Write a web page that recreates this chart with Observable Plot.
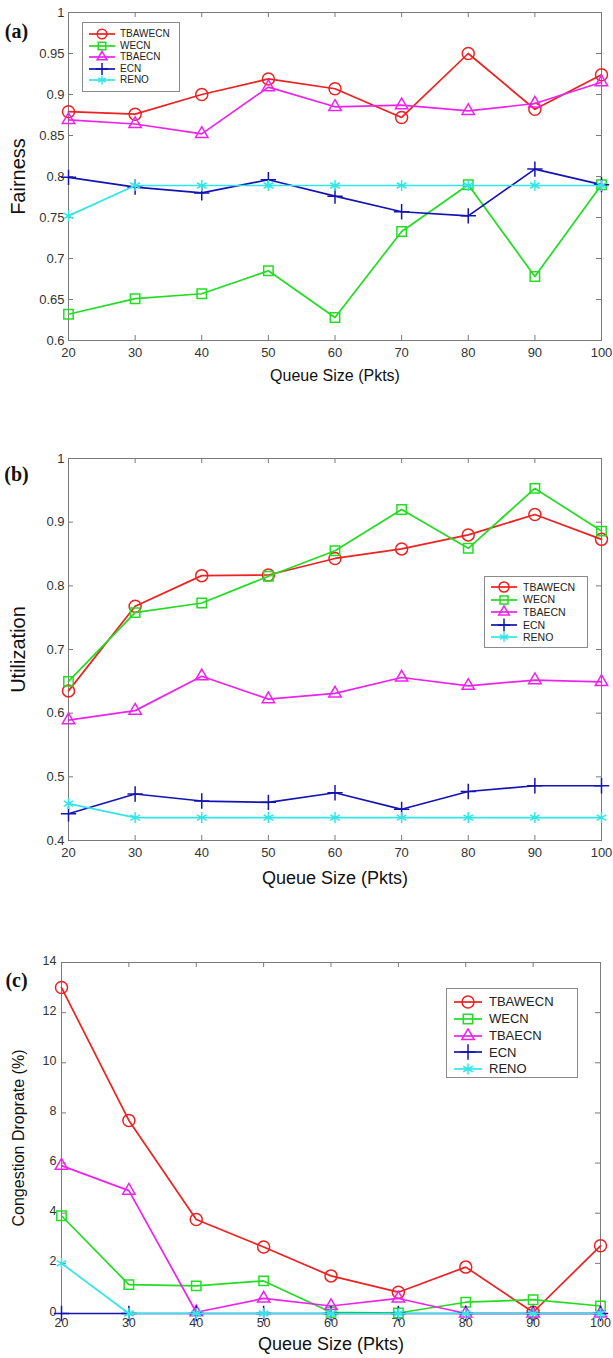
<!DOCTYPE html>
<html><head><meta charset="utf-8">
<script src="https://cdn.jsdelivr.net/npm/d3@7"></script>
<script src="https://cdn.jsdelivr.net/npm/@observablehq/plot@0.6"></script>
<style>
body{margin:0;background:#fff;}
#wrap{position:relative;width:613px;height:1358px;overflow:hidden;}
.panel{position:absolute;left:0;}
.legend{position:absolute;background:#fff;border:1px solid #8a8a8a;font-family:"Liberation Sans",Arial,sans-serif;color:#222;box-sizing:border-box;}
.legend .row{position:absolute;left:0;white-space:nowrap;}
</style></head><body><div id="wrap"></div>
<script>
// ---- data ----
const queueSizes = [20, 30, 40, 50, 60, 70, 80, 90, 100];
const seriesNames = ["TBAWECN", "WECN", "TBAECN", "ECN", "RENO"];
const seriesColors = ["#ee2020", "#22dd22", "#ee22ee", "#1414b4", "#33e6e6"];
const seriesSymbols = ["circle", "square", "triangle", "plus", "asterisk"];
const symbolRadius = [6, 5.3, 4.6, 5, 5.2];

// (a) Fairness
const fairTBAWECN = [0.879, 0.876, 0.900, 0.919, 0.907, 0.872, 0.950, 0.882, 0.924];
const fairWECN    = [0.632, 0.651, 0.657, 0.685, 0.628, 0.733, 0.790, 0.678, 0.790];
const fairTBAECN  = [0.869, 0.864, 0.852, 0.909, 0.885, 0.887, 0.880, 0.889, 0.915];
const fairECN     = [0.799, 0.787, 0.780, 0.796, 0.776, 0.757, 0.752, 0.809, 0.790];
const fairRENO    = [0.752, 0.789, 0.789, 0.789, 0.789, 0.789, 0.789, 0.789, 0.789];
const fairTicks   = [0.6, 0.65, 0.7, 0.75, 0.8, 0.85, 0.9, 0.95, 1];

// (b) Utilization
const utilTBAWECN = [0.635, 0.768, 0.816, 0.817, 0.843, 0.858, 0.880, 0.912, 0.873];
const utilWECN    = [0.650, 0.758, 0.773, 0.815, 0.855, 0.920, 0.859, 0.953, 0.886];
const utilTBAECN  = [0.589, 0.604, 0.658, 0.622, 0.631, 0.656, 0.643, 0.652, 0.649];
const utilECN     = [0.442, 0.473, 0.462, 0.460, 0.475, 0.449, 0.477, 0.486, 0.486];
const utilRENO    = [0.458, 0.436, 0.436, 0.436, 0.436, 0.436, 0.436, 0.436, 0.436];
const utilTicks   = [0.4, 0.5, 0.6, 0.7, 0.8, 0.9, 1];

// (c) Congestion droprate (%)
const dropTBAWECN = [13.0, 7.7, 3.75, 2.65, 1.5, 0.85, 1.85, 0.05, 2.7];
const dropWECN    = [3.9, 1.15, 1.1, 1.3, 0.05, 0.02, 0.45, 0.55, 0.3];
const dropTBAECN  = [5.9, 4.9, 0.05, 0.6, 0.3, 0.6, 0.0, 0.0, 0.0];
const dropECN     = [0, 0, 0, 0, 0, 0, 0, 0, 0];
const dropRENO    = [2.0, 0, 0, 0, 0, 0, 0, 0, 0];
const dropTicks   = [0, 2, 4, 6, 8, 10, 12, 14];

const sansFont = '"Liberation Sans", Arial, sans-serif';
const serifFont = '"Liberation Serif", "Times New Roman", serif';

const panels = [
  {tag: "(a)", top: 0, h: 430, mt: 12, mb: 90, ml: 68, mr: 12,
   yDomain: [0.6, 1], yTicks: fairTicks, yLabel: "Fairness", yLabelSize: 20, yLabelDx: -50,
   xLabelSize: 16, xLabelDy: 40, tickFont: 13, tickPad: 7, yTickDy: 0, yTickPad: 4, tagDy: 11,
   series: [fairTBAWECN, fairWECN, fairTBAECN, fairECN, fairRENO],
   legend: {left: 82, top: 22, width: 98, height: 70, first: 11, step: 11.6, font: 10, lx0: 6, lx1: 32, tx: 37, scale: 0.8}},
  {tag: "(b)", top: 440, h: 470, mt: 18, mb: 70, ml: 68, mr: 12,
   yDomain: [0.4, 1], yTicks: utilTicks, yLabel: "Utilization", yLabelSize: 20, yLabelDx: -50,
   xLabelSize: 18, xLabelDy: 43, tickFont: 13, tickPad: 7, yTickDy: 0, yTickPad: 4, tagDy: 8,
   series: [utilTBAWECN, utilWECN, utilTBAECN, utilECN, utilRENO],
   legend: {left: 484, top: 576, width: 104, height: 72, first: 10, step: 12.6, font: 10.5, lx0: 6, lx1: 32, tx: 38, scale: 0.85}},
  {tag: "(c)", top: 920, h: 438, mt: 42, mb: 45, ml: 61, mr: 13,
   yDomain: [0, 14], yTicks: dropTicks, yLabel: "Congestion Droprate (%)", yLabelSize: 16, yLabelDx: -43,
   xLabelSize: 18, xLabelDy: 36, tickFont: 12.5, tickPad: 5, yTickDy: -2, yTickPad: 5, tagDy: 10,
   series: [dropTBAWECN, dropWECN, dropTBAECN, dropECN, dropRENO],
   legend: {left: 446, top: 988, width: 132, height: 90, first: 13, step: 16.8, font: 13, lx0: 7, lx1: 35, tx: 42, scale: 1}}
];

const wrap = document.getElementById("wrap");
const symMap = {circle: d3.symbolCircle, square: d3.symbolSquare, triangle: d3.symbolTriangle, plus: d3.symbolPlus, asterisk: d3.symbolAsterisk};

for (const cfg of panels) {
  const [y0, y1] = cfg.yDomain;
  const plotW = 613 - cfg.ml - cfg.mr;
  const plotH = cfg.h - cfg.mt - cfg.mb;
  const tickLen = 5;
  const xMin = queueSizes[0], xMax = queueSizes[queueSizes.length - 1];
  const tx = (xMax - xMin) * tickLen / plotW;
  const ty = (y1 - y0) * tickLen / plotH;
  const grey = "#7a7a7a";

  const marks = [
    Plot.frame({stroke: grey, strokeWidth: 1}),
    Plot.ruleX(queueSizes, {x: d => d, y1: y0, y2: y0 + ty, stroke: grey}),
    Plot.ruleX(queueSizes, {x: d => d, y1: y1 - ty, y2: y1, stroke: grey}),
    Plot.ruleY(cfg.yTicks, {y: d => d, x1: xMin, x2: xMin + tx, stroke: grey}),
    Plot.ruleY(cfg.yTicks, {y: d => d, x1: xMax - tx, x2: xMax, stroke: grey}),
    Plot.axisX({ticks: queueSizes, tickSize: 0, tickPadding: cfg.tickPad, fontSize: cfg.tickFont, label: null, tickFormat: d => String(d)}),
    Plot.axisY({ticks: cfg.yTicks, tickSize: 0, tickPadding: cfg.yTickPad, dy: cfg.yTickDy, fontSize: cfg.tickFont, label: null, tickFormat: d => String(+d.toFixed(2))}),
    Plot.text(["Queue Size (Pkts)"], {frameAnchor: "bottom", textAnchor: "middle", dy: cfg.xLabelDy, fontSize: cfg.xLabelSize, fill: "#111"}),
    Plot.text([cfg.yLabel], {frameAnchor: "left", textAnchor: "middle", dx: cfg.yLabelDx, rotate: -90, fontSize: cfg.yLabelSize, fill: "#111"}),
    Plot.text([cfg.tag], {frameAnchor: "top-left", textAnchor: "middle", dx: -cfg.ml + 16, dy: cfg.tagDy, fontSize: 20, fontWeight: "bold", fontFamily: serifFont, fill: "#111"})
  ];

  cfg.series.forEach((vals, i) => {
    const data = queueSizes.map((q, j) => ({q, v: vals[j]}));
    marks.push(Plot.line(data, {x: "q", y: "v", stroke: seriesColors[i], strokeWidth: 1.7}));
    marks.push(Plot.dot(data, {x: "q", y: "v", symbol: seriesSymbols[i], r: symbolRadius[i], stroke: seriesColors[i], fill: "none", strokeWidth: 1.5}));
  });

  const chart = Plot.plot({
    width: 613, height: cfg.h,
    marginTop: cfg.mt, marginBottom: cfg.mb, marginLeft: cfg.ml, marginRight: cfg.mr,
    x: {domain: [xMin, xMax], axis: null},
    y: {domain: cfg.yDomain, axis: null},
    style: {fontFamily: sansFont, color: "#333", background: "transparent", overflow: "visible"},
    marks
  });
  chart.classList.add("panel");
  chart.style.top = cfg.top + "px";
  wrap.appendChild(chart);

  // legend
  const L = cfg.legend;
  const box = document.createElement("div");
  box.className = "legend";
  Object.assign(box.style, {left: L.left + "px", top: L.top + "px", width: L.width + "px", height: L.height + "px", fontSize: L.font + "px"});
  seriesNames.forEach((name, i) => {
    const cy = L.first + i * L.step;
    const svg = d3.create("svg").attr("width", L.lx1 + 4).attr("height", 16)
      .style("position", "absolute").style("left", "0px").style("top", (cy - 8) + "px");
    svg.append("line").attr("x1", L.lx0).attr("x2", L.lx1).attr("y1", 8).attr("y2", 8)
      .attr("stroke", seriesColors[i]).attr("stroke-width", 1.7);
    const r = symbolRadius[i] * L.scale;
    svg.append("path").attr("d", d3.symbol(symMap[seriesSymbols[i]], Math.PI * r * r)())
      .attr("transform", `translate(${(L.lx0 + L.lx1) / 2},8)`)
      .attr("fill", "none").attr("stroke", seriesColors[i]).attr("stroke-width", 1.5);
    box.appendChild(svg.node());
    const t = document.createElement("div");
    t.className = "row";
    t.textContent = name;
    Object.assign(t.style, {left: L.tx + "px", top: (cy - L.font * 0.6) + "px", lineHeight: "1.2"});
    box.appendChild(t);
  });
  wrap.appendChild(box);
}
</script></body></html>
